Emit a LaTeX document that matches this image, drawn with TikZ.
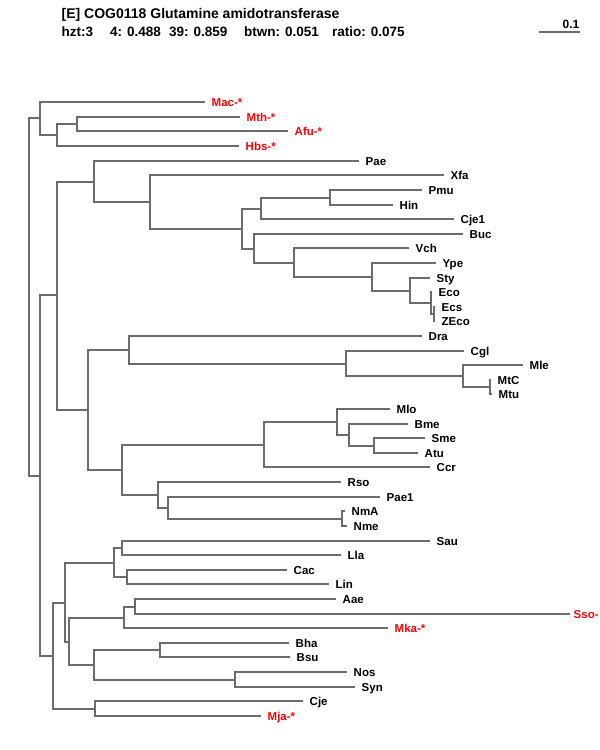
\documentclass[tikz,border=0pt]{standalone}
\usepackage{fontspec}
\setmainfont{Liberation Sans}
\definecolor{brgray}{RGB}{108,108,108}
\definecolor{archred}{RGB}{255,0,0}
\begin{document}
\begin{tikzpicture}[x=1pt,y=-1pt,
  br/.style={draw=brgray, line width=1.6pt, line join=miter},
  leaf/.style={anchor=west, inner sep=0pt, xshift=6.5pt, text height=8.2pt, text depth=0pt,
    font=\fontsize{11.5}{12}\selectfont\bfseries, text=black},
  arch/.style={leaf, text=archred},
  hdr/.style={anchor=base west, inner sep=0pt, font=\fontsize{13.5}{14}\selectfont\bfseries, text=black}]
\useasboundingbox (0,0) rectangle (600,750);
\clip (0,0) rectangle (600,750);
\fill[white] (0,0) rectangle (600,750);
% header
\node[hdr, font=\fontsize{14}{14}\selectfont\bfseries] (title) at (61.5,18) {[E] COG0118 Glutamine amidotransferase};
\node[hdr] (h1) at (61.5,36) {hzt:3};
\node[hdr] (h2) at (110,36) {4: 0.488};
\node[hdr] (h3) at (169,36) {39: 0.859};
\node[hdr] (h4) at (244,36) {btwn: 0.051};
\node[hdr] (h5) at (332,36) {ratio: 0.075};
\coordinate (sb1) at (538.5,32);
\coordinate (sb2) at (579.5,32);
\draw[br] (sb1) -- (sb2);
\node[hdr, anchor=base east, font=\fontsize{12}{12}\selectfont\bfseries] (sbl) at (579.5,28.5) {0.1};
% leaves
\coordinate (Mac) at (205,102);
\coordinate (Mth) at (240,117);
\coordinate (Afu) at (288,131);
\coordinate (Hbs) at (239,146);
\coordinate (Pae) at (359,161);
\coordinate (Xfa) at (444,175);
\coordinate (Pmu) at (422,190);
\coordinate (Hin) at (393,205);
\coordinate (Cje1) at (454,219);
\coordinate (Buc) at (463,234);
\coordinate (Vch) at (409,248);
\coordinate (Ype) at (436,263);
\coordinate (Sty) at (430,278);
\coordinate (Eco) at (432,292);
\coordinate (Ecs) at (435,307);
\coordinate (ZEco) at (435,321);
\coordinate (Dra) at (422,336);
\coordinate (Cgl) at (464,351);
\coordinate (Mle) at (523,365);
\coordinate (MtC) at (491,380);
\coordinate (Mtu) at (492,394);
\coordinate (Mlo) at (390,409);
\coordinate (Bme) at (408,424);
\coordinate (Sme) at (425,438);
\coordinate (Atu) at (418,453);
\coordinate (Ccr) at (430,467);
\coordinate (Rso) at (341,482);
\coordinate (Pae1) at (380,497);
\coordinate (NmA) at (345,511);
\coordinate (Nme) at (347,526);
\coordinate (Sau) at (430,541);
\coordinate (Lla) at (341,555);
\coordinate (Cac) at (287,570);
\coordinate (Lin) at (329,584);
\coordinate (Aae) at (336,599);
\coordinate (Sso) at (570,614);
\coordinate (Mka) at (388,628);
\coordinate (Bha) at (289,643);
\coordinate (Bsu) at (290,657);
\coordinate (Nos) at (347,672);
\coordinate (Syn) at (355,687);
\coordinate (Cje) at (303,701);
\coordinate (Mja) at (261,716);
% internal nodes
\coordinate (A2) at (77,124);
\coordinate (A1) at (57,135);
\coordinate (A) at (40,118);
\coordinate (P) at (434,314);
\coordinate (O) at (431,303);
\coordinate (N) at (410,291);
\coordinate (M) at (372,277);
\coordinate (L) at (294,263);
\coordinate (J) at (254,249);
\coordinate (K) at (330,198);
\coordinate (I) at (261,209);
\coordinate (H) at (242,229);
\coordinate (G) at (150,202);
\coordinate (E) at (94,182);
\coordinate (U) at (490,387);
\coordinate (T) at (463,376);
\coordinate (S) at (346,364);
\coordinate (Q) at (129,350);
\coordinate (Z) at (374,446);
\coordinate (Y) at (349,435);
\coordinate (X) at (337,422);
\coordinate (V) at (264,445);
\coordinate (AB) at (342,519);
\coordinate (AA) at (168,508);
\coordinate (W) at (158,495);
\coordinate (R) at (122,470);
\coordinate (F) at (88,410);
\coordinate (C) at (57,295);
\coordinate (AG) at (122,548);
\coordinate (AH) at (127,577);
\coordinate (AE) at (114,563);
\coordinate (AK) at (135,607);
\coordinate (AI) at (124,618);
\coordinate (AL) at (160,650);
\coordinate (AM) at (235,680);
\coordinate (AJ) at (94,665);
\coordinate (AF) at (69,642);
\coordinate (AC) at (65,603);
\coordinate (AD) at (95,709);
\coordinate (D) at (53,656);
\coordinate (B) at (40,476);
\coordinate (R0) at (29,298);
% branches
\foreach \n/\a/\b in {A2/Mth/Afu, A1/A2/Hbs, A/Mac/A1, P/Ecs/ZEco, O/Eco/P, N/Sty/O,
  M/Ype/N, L/Vch/M, J/Buc/L, K/Pmu/Hin, I/K/Cje1, H/I/J, G/Xfa/H, E/Pae/G,
  U/MtC/Mtu, T/Mle/U, S/Cgl/T, Q/Dra/S, Z/Sme/Atu, Y/Bme/Z, X/Mlo/Y, V/X/Ccr,
  AB/NmA/Nme, AA/Pae1/AB, W/Rso/AA, R/V/W, F/Q/R, C/E/F,
  AG/Sau/Lla, AH/Cac/Lin, AE/AG/AH, AK/Aae/Sso, AI/AK/Mka, AL/Bha/Bsu, AM/Nos/Syn,
  AJ/AL/AM, AF/AI/AJ, AC/AE/AF, AD/Cje/Mja, D/AC/AD, B/C/D, R0/A/B}
  {\draw[br] (\a) -| (\n) |- (\b);}
% labels
\node[arch] (tMac) at (Mac) {Mac-*};
\node[arch] (tMth) at (Mth) {Mth-*};
\node[arch] (tAfu) at (Afu) {Afu-*};
\node[arch] (tHbs) at (Hbs) {Hbs-*};
\node[leaf] (tPae) at (Pae) {Pae};
\node[leaf] (tXfa) at (Xfa) {Xfa};
\node[leaf] (tPmu) at (Pmu) {Pmu};
\node[leaf] (tHin) at (Hin) {Hin};
\node[leaf] (tCje1) at (Cje1) {Cje1};
\node[leaf] (tBuc) at (Buc) {Buc};
\node[leaf] (tVch) at (Vch) {Vch};
\node[leaf] (tYpe) at (Ype) {Ype};
\node[leaf] (tSty) at (Sty) {Sty};
\node[leaf] (tEco) at (Eco) {Eco};
\node[leaf] (tEcs) at (Ecs) {Ecs};
\node[leaf] (tZEco) at (ZEco) {ZEco};
\node[leaf] (tDra) at (Dra) {Dra};
\node[leaf] (tCgl) at (Cgl) {Cgl};
\node[leaf] (tMle) at (Mle) {Mle};
\node[leaf] (tMtC) at (MtC) {MtC};
\node[leaf] (tMtu) at (Mtu) {Mtu};
\node[leaf] (tMlo) at (Mlo) {Mlo};
\node[leaf] (tBme) at (Bme) {Bme};
\node[leaf] (tSme) at (Sme) {Sme};
\node[leaf] (tAtu) at (Atu) {Atu};
\node[leaf] (tCcr) at (Ccr) {Ccr};
\node[leaf] (tRso) at (Rso) {Rso};
\node[leaf] (tPae1) at (Pae1) {Pae1};
\node[leaf] (tNmA) at (NmA) {NmA};
\node[leaf] (tNme) at (Nme) {Nme};
\node[leaf] (tSau) at (Sau) {Sau};
\node[leaf] (tLla) at (Lla) {Lla};
\node[leaf] (tCac) at (Cac) {Cac};
\node[leaf] (tLin) at (Lin) {Lin};
\node[leaf] (tAae) at (Aae) {Aae};
\node[arch, xshift=-3pt] (tSso) at (Sso) {Sso-};
\node[arch] (tMka) at (Mka) {Mka-*};
\node[leaf] (tBha) at (Bha) {Bha};
\node[leaf] (tBsu) at (Bsu) {Bsu};
\node[leaf] (tNos) at (Nos) {Nos};
\node[leaf] (tSyn) at (Syn) {Syn};
\node[leaf] (tCje) at (Cje) {Cje};
\node[arch] (tMja) at (Mja) {Mja-*};
\end{tikzpicture}
\end{document}
